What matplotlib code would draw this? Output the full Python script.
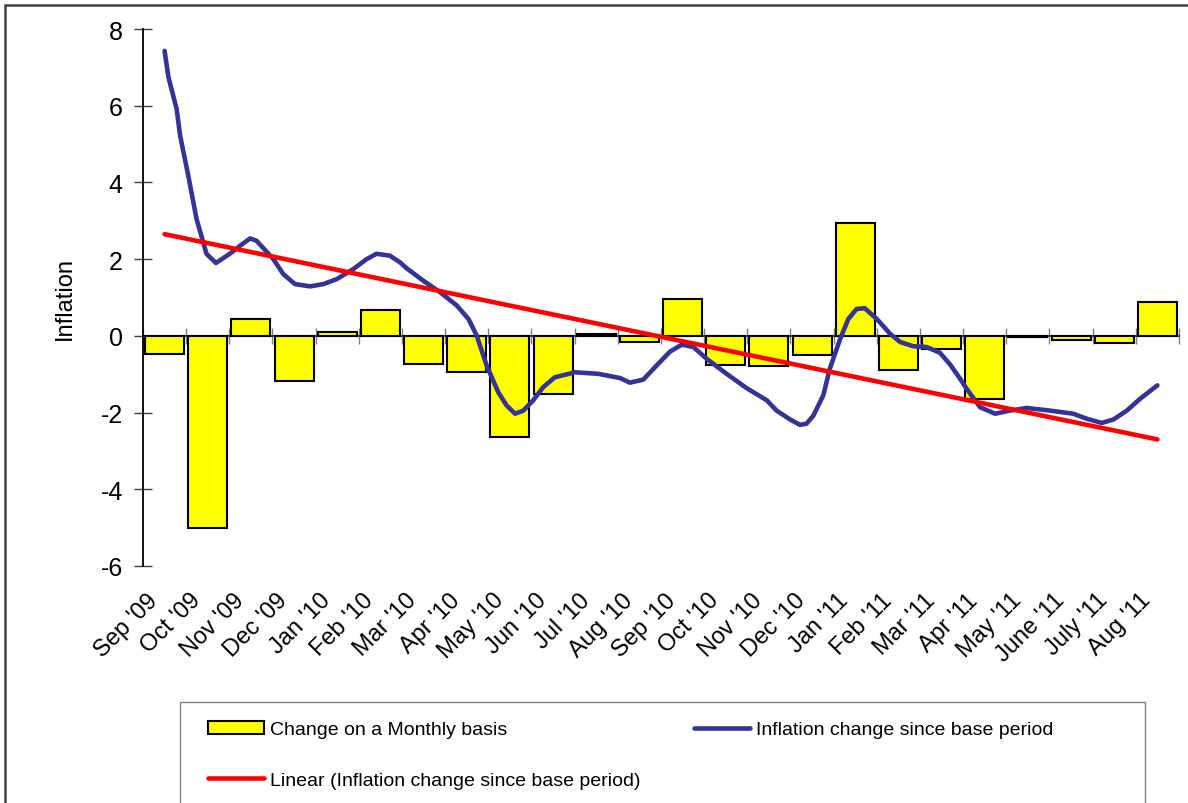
import matplotlib
matplotlib.use('Agg')
import matplotlib.pyplot as plt
import matplotlib.patches as mpatches
import matplotlib.transforms as mtransforms
import numpy as np

plt.rcParams['font.family'] = ['Liberation Sans', 'DejaVu Sans']

## month labels along the x axis
months = ["Sep '09", "Oct '09", "Nov '09", "Dec '09", "Jan '10", "Feb '10",
          "Mar '10", "Apr '10", "May '10", "Jun '10", "Jul '10", "Aug '10",
          "Sep '10", "Oct '10", "Nov '10", "Dec '10", "Jan '11", "Feb '11",
          "Mar '11", "Apr '11", "May '11", "June '11", "July '11", "Aug '11"]

## monthly change (bars)
monthly_change = [-0.46, -5.0, 0.44, -1.18, 0.10, 0.67, -0.74, -0.95, -2.64, -1.51,
                  0.04, -0.17, 0.96, -0.77, -0.79, -0.49, 2.93, -0.90, -0.34, -1.64,
                  -0.03, -0.12, -0.18, 0.89]

## inflation change since base period (month index, value)
line_month = [0.00, 0.09, 0.28, 0.36, 0.55, 0.74, 0.97, 1.19, 1.51, 1.75, 1.98, 2.13,
              2.52, 2.75, 3.02, 3.37, 3.68, 3.99, 4.37, 4.68, 4.91, 5.22, 5.45, 5.61,
              5.99, 6.38, 6.77, 7.04, 7.23, 7.46, 7.73, 7.92, 8.12, 8.31, 8.54, 8.77,
              9.04, 9.51, 10.05, 10.55, 10.78, 11.09, 11.40, 11.71, 11.98, 12.25, 12.56,
              13.02, 13.48, 13.95, 14.18, 14.49, 14.72, 14.87, 15.03, 15.26, 15.41,
              15.65, 15.84, 16.03, 16.22, 16.50, 16.81, 17.04, 17.34, 17.65, 17.96,
              18.20, 18.43, 18.58, 18.89, 19.24, 19.58, 19.97, 20.52, 21.05, 21.36,
              21.71, 21.98, 22.29, 22.60, 23.00]
line_value = [7.43, 6.74, 5.91, 5.22, 4.17, 3.05, 2.14, 1.90, 2.14, 2.35, 2.54, 2.48,
              2.00, 1.61, 1.35, 1.29, 1.35, 1.48, 1.74, 2.00, 2.14, 2.09, 1.92, 1.76,
              1.44, 1.14, 0.79, 0.44, 0.01, -0.77, -1.47, -1.81, -2.03, -1.95, -1.68, -1.34,
              -1.08, -0.95, -0.99, -1.10, -1.22, -1.14, -0.77, -0.41, -0.23, -0.29, -0.60,
              -0.99, -1.36, -1.68, -1.95, -2.18, -2.32, -2.29, -2.08, -1.55, -0.86,
              -0.08, 0.44, 0.70, 0.72, 0.44, 0.05, -0.16, -0.27, -0.29, -0.44,
              -0.75, -1.12, -1.38, -1.86, -2.03, -1.95, -1.88, -1.95, -2.03, -2.16,
              -2.27, -2.18, -1.95, -1.64, -1.29]

## linear trend at first and last month
trend_ends = [2.65, -2.70]

yticks = [-6, -4, -2, 0, 2, 4, 6, 8]

fig = plt.figure(figsize=(11.88, 8.04), dpi=100)
ax = fig.add_axes([143/1188, 1-567/804, (1179-143)/1188, (567-30)/804])

x = np.arange(len(months))
ax.bar(x, monthly_change, width=0.9, color='#FFFF00', edgecolor='black',
       linewidth=1.5, zorder=2)
blue, = ax.plot(line_month, line_value, color='#333399', lw=3.3, zorder=3,
                solid_capstyle='round', solid_joinstyle='round')
red, = ax.plot([x[0], x[-1]], trend_ends, color='#FF0000', lw=3.3, zorder=4,
               solid_capstyle='round')

ax.set_xlim(-0.5, len(months)-0.5)
ax.set_ylim(-6, 8)
ax.set_yticks(yticks)
ax.set_yticklabels([str(v) for v in yticks], fontsize=18)
ax.tick_params(axis='y', direction='inout', length=13, width=1, color='#404040', pad=8)
ax.set_ylabel('Inflation', fontsize=17, labelpad=18)

ax.set_xticks(x)
ax.set_xticklabels(months, rotation=45, ha='right', va='center',
                   rotation_mode='anchor', fontsize=17)
ax.tick_params(axis='x', length=0, pad=22)
## shift the slanted labels a little to the left, like the original
shift = mtransforms.ScaledTranslation(-10/100, 0, fig.dpi_scale_trans)
for lab in ax.get_xticklabels():
    lab.set_transform(lab.get_transform() + shift)

for s in ['top', 'right', 'bottom']:
    ax.spines[s].set_visible(False)
ax.spines['left'].set_linewidth(1.3)

## category axis crossing at zero
zax = ax.secondary_xaxis(6/14)
zax.set_xticks(np.arange(len(months)+1)-0.5)
zax.set_xticklabels([])
zax.tick_params(direction='inout', length=12, width=1, color='#808080')
zax.spines['bottom'].set_color('#404040')
zax.spines['bottom'].set_linewidth(1.5)

## outer chart frame and legend box
fig.patches.append(mpatches.Rectangle((5/1188, -0.05), 1.2, 1-6/804+0.05,
                   transform=fig.transFigure, fill=False, edgecolor='#404040', lw=1.8))
fig.patches.append(mpatches.Rectangle((180/1188, -0.05), 965/1188, 1-703/804+0.05,
                   transform=fig.transFigure, fill=False, edgecolor='#808080', lw=1))

bar_handle = mpatches.Patch(facecolor='#FFFF00', edgecolor='black', linewidth=1.5)
fig.legend([bar_handle, red, blue],
           ['Change on a Monthly basis', 'Linear (Inflation change since base period)',
            'Inflation change since base period'],
           loc='upper left', bbox_to_anchor=(198/1188, 1-712/804), ncol=2,
           frameon=False, fontsize=14, handlelength=2.9, handletextpad=0.3,
           columnspacing=2.75, labelspacing=1.7, borderpad=0)

fig.savefig('out.png', dpi=100)
